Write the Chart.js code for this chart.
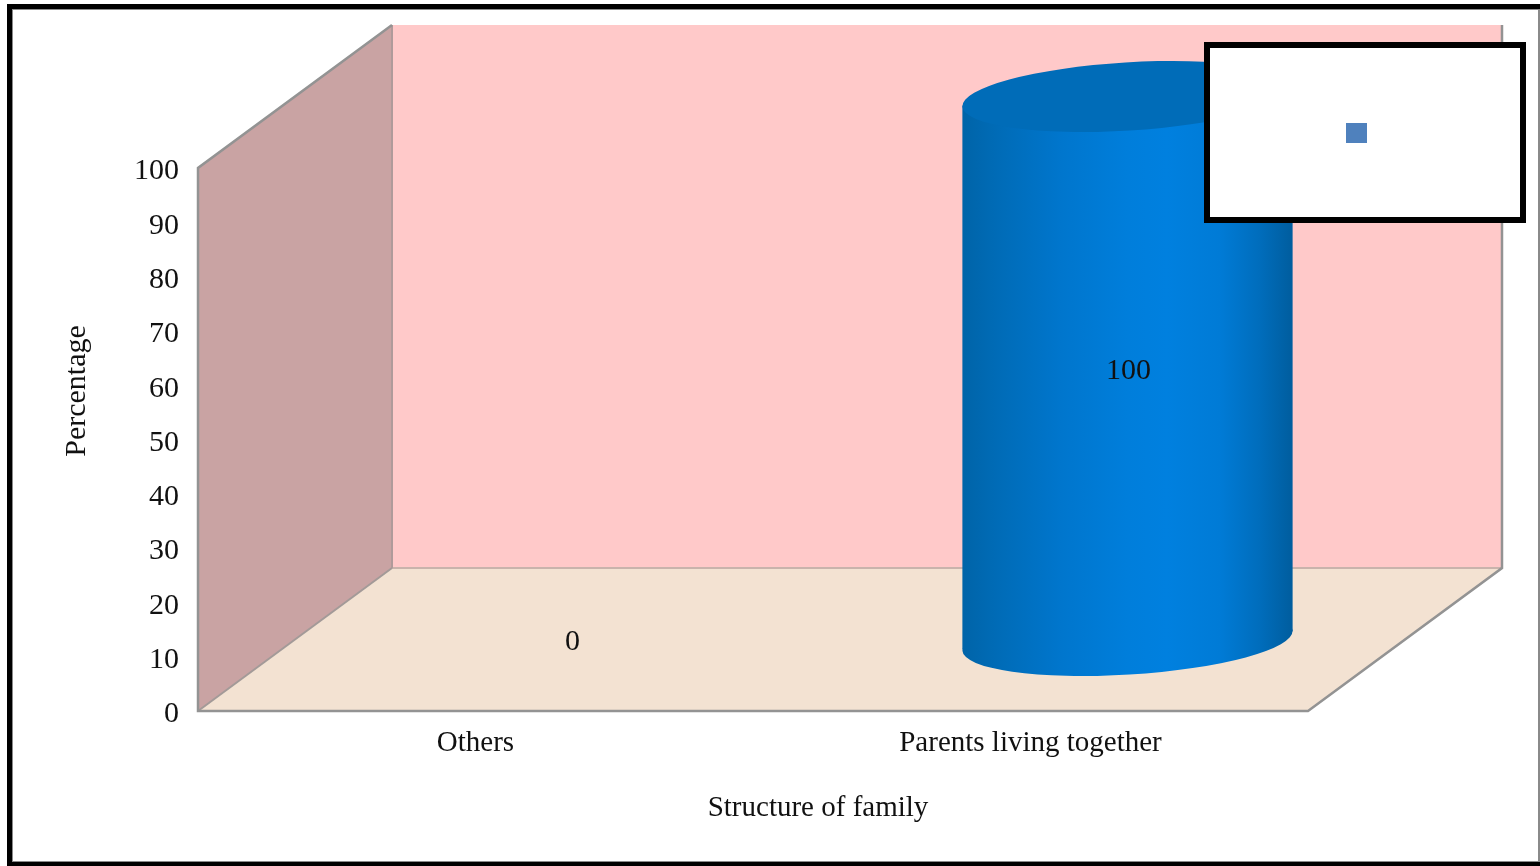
<!DOCTYPE html>
<html><head><meta charset="utf-8">
<style>html,body{margin:0;padding:0;background:#fff}canvas{display:block}</style>
<script src="https://cdn.jsdelivr.net/npm/chart.js@4"></script>
</head><body><canvas id="c" width="1540" height="866"></canvas>
<script>
const categories = ['Others', 'Parents living together'];
const seriesValues = [0, 100];
const yTicks = [0, 10, 20, 30, 40, 50, 60, 70, 80, 90, 100];
const xTitle = 'Structure of family';
const yTitle = 'Percentage';
const SERIF = '"Liberation Serif","Times New Roman",serif';
const DEPTH_X = 194, DEPTH_Y = 143;

const scene = {
  id: 'scene',
  beforeDatasetsDraw(chart) {
    const c = chart.ctx, a = chart.chartArea;
    const L = a.left, R = a.right, T = a.top, B = a.bottom;
    const dx = DEPTH_X, dy = DEPTH_Y;
    const poly = (pts, fill) => {
      c.beginPath(); pts.forEach((p, i) => i ? c.lineTo(p[0], p[1]) : c.moveTo(p[0], p[1]));
      c.closePath(); c.fillStyle = fill; c.fill();
    };
    const line = (pts, col, w) => {
      c.beginPath(); pts.forEach((p, i) => i ? c.lineTo(p[0], p[1]) : c.moveTo(p[0], p[1]));
      c.strokeStyle = col; c.lineWidth = w; c.stroke();
    };
    c.save();
    poly([[L+dx,T-dy],[R+dx,T-dy],[R+dx,B-dy],[L+dx,B-dy]], '#FFC9C9');
    poly([[L,T],[L+dx,T-dy],[L+dx,B-dy],[L,B]], '#C9A3A3');
    poly([[L,B],[L+dx,B-dy],[R+dx,B-dy],[R,B]], '#F3E2D2');
    line([[L+dx,B-dy],[R+dx,B-dy]], '#C9B3AC', 2);
    line([[L+dx,T-dy],[L+dx,B-dy]], '#B09A9A', 2);
    line([[L,B],[L+dx,B-dy]], '#A39A98', 2);
    line([[L+dx,T-dy],[L,T],[L,B],[R,B],[R+dx,B-dy],[R+dx,T-dy]], '#939393', 2.5);
    c.restore();
  },
  afterDatasetsDraw(chart) {
    const c = chart.ctx, bars = chart.getDatasetMeta(0).data;
    c.save();
    bars.forEach((bar, i) => {
      const cx = bar.x + DEPTH_X / 2;
      const top = bar.y - DEPTH_Y / 2, base = bar.base - DEPTH_Y / 2;
      const rx = bar.width / 2;
      if (seriesValues[i] > 0) {
        const a = rx * 1.0018, b = rx * 0.2067, rot = -0.0613;
        const g = c.createLinearGradient(cx - rx, 0, cx + rx, 0);
        [[0,'#0064A8'],[0.1,'#006BB6'],[0.3,'#0076CD'],[0.5,'#007EDB'],[0.62,'#0080DF'],
         [0.78,'#007BD6'],[0.9,'#006DBC'],[1,'#005D9E']].forEach(s => g.addColorStop(s[0], s[1]));
        const skew = 9;
        c.beginPath();
        c.ellipse(cx, base + 1, a, b, rot, 0, Math.PI * 2);
        c.fillStyle = g; c.fill();
        c.beginPath();
        c.moveTo(cx - rx, top + skew); c.lineTo(cx + rx, top - skew);
        c.lineTo(cx + rx, base + 1 - skew); c.lineTo(cx - rx, base + 1 + skew);
        c.closePath(); c.fill();
        c.beginPath();
        c.ellipse(cx, top, a, b, rot, 0, Math.PI * 2);
        c.fillStyle = '#006CB8'; c.fill();
      }
      c.fillStyle = '#111';
      c.font = '30px ' + SERIF;
      c.textAlign = 'center'; c.textBaseline = 'middle';
      c.fillText(String(seriesValues[i]), cx + 1 - (i === 0 ? 1 : 0), (top + base) / 2 + 3);
    });
    c.restore();
  },
  afterDraw(chart) {
    const c = chart.ctx;
    c.save();
    c.fillStyle = '#111'; c.textAlign = 'center'; c.textBaseline = 'middle';
    c.font = '29px ' + SERIF;
    c.fillText(xTitle, 818, 808);
    c.translate(77, 391); c.rotate(-Math.PI / 2);
    c.font = '30px ' + SERIF;
    c.fillText(yTitle, 0, 0);
    c.restore();
    c.save();
    // legend box
    c.fillStyle = '#000'; c.fillRect(1204, 42, 322, 181);
    c.fillStyle = '#fff'; c.fillRect(1210, 48, 310, 169);
    c.fillStyle = '#4F81BD'; c.fillRect(1346, 123, 21, 20);
    // outer frame
    c.fillStyle = '#000';
    c.fillRect(7, 4, 5, 862);
    c.fillRect(7, 4, 1533, 5);
    c.fillRect(7, 862, 1533, 4);
    c.fillStyle = '#8a8a8a';
    c.fillRect(1538, 9, 2, 853);
    c.fillRect(12, 861, 1526, 1);
    c.fillRect(12, 9, 1526, 1);
    c.fillRect(12, 9, 1, 852);
    c.restore();
  }
};

new Chart(document.getElementById('c'), {
  type: 'bar',
  data: { labels: categories, datasets: [{ label: '', data: seriesValues,
    backgroundColor: 'rgba(0,112,192,0)', borderWidth: 0, barPercentage: 0.595, categoryPercentage: 1 }] },
  plugins: [scene],
  options: {
    responsive: false, animation: false,
    layout: { padding: { left: 0, top: 168, right: 232, bottom: 0 } },
    plugins: { legend: { display: false }, tooltip: { enabled: false }, title: { display: false } },
    scales: {
      x: { grid: { display: false, drawTicks: false }, border: { display: false },
        afterFit: s => { s.height = 155; },
        ticks: { padding: 15, color: '#111', font: { family: SERIF, size: 29 }, maxRotation: 0 } },
      y: { min: 0, max: 100, grid: { display: false, drawTicks: false }, border: { display: false },
        afterFit: s => { s.width = 198; },
        afterBuildTicks: s => { s.ticks = yTicks.map(v => ({ value: v })); },
        ticks: { padding: 19, labelOffset: 3.5, color: '#111', font: { family: SERIF, size: 30 } } }
    }
  }
});
</script></body></html>
